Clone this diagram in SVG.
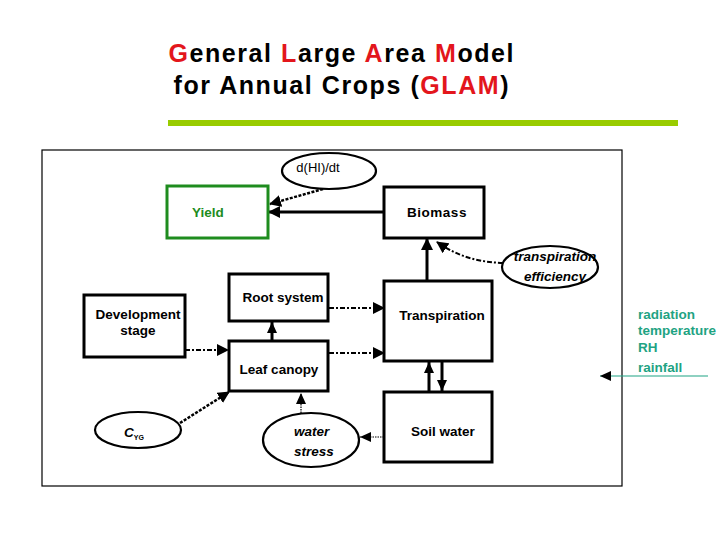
<svg xmlns="http://www.w3.org/2000/svg" width="720" height="540" viewBox="0 0 720 540">
<style>
  .t { font-family: "Liberation Sans", Arial, sans-serif; }
  .title { font-size: 25px; font-weight: bold; fill: #000; }
  .red { fill: #e3161c; }
  .box { fill: #fff; stroke: #000; stroke-width: 3; }
  .ell { fill: #fff; stroke: #000; stroke-width: 2.2; }
  .lbl { font-family: "Liberation Sans", Arial, sans-serif; font-size: 13.5px; font-weight: bold; fill: #000; text-anchor: middle; }
  .ital { font-style: italic; }
  .teal { font-family: "Liberation Sans", Arial, sans-serif; font-size: 13.5px; font-weight: bold; fill: #1fa383; }
  .solid { fill: none; stroke: #000; stroke-width: 3; }
  .dashdot { fill: none; stroke: #000; stroke-width: 2; stroke-dasharray: 5 2 2 2; }
  .dots { fill: none; stroke: #000; stroke-width: 1.2; stroke-dasharray: 1.5 1; }
  .thickdot { fill: none; stroke: #000; stroke-width: 2.5; stroke-dasharray: 3 1.5; }
</style>
<defs>
  <marker id="ah" markerUnits="userSpaceOnUse" markerWidth="12" markerHeight="12" refX="11" refY="6" orient="auto">
    <path d="M0,0 L12,6 L0,12 z" fill="#000"/>
  </marker>
  <marker id="ahs" markerUnits="userSpaceOnUse" markerWidth="11" markerHeight="10" refX="11" refY="5" orient="auto">
    <path d="M0,0 L11,5 L0,10 z" fill="#000"/>
  </marker>
</defs>
<rect width="720" height="540" fill="#fff"/>

<g id="title">
  <text class="t title" x="341" y="62" text-anchor="middle" textLength="345" lengthAdjust="spacing"><tspan class="red">G</tspan>eneral <tspan class="red">L</tspan>arge <tspan class="red">A</tspan>rea <tspan class="red">M</tspan>odel</text>
  <text class="t title" x="341" y="94" text-anchor="middle" textLength="335" lengthAdjust="spacing">for Annual Crops (<tspan class="red">GLAM</tspan>)</text>
  <rect x="168" y="120" width="510" height="6" fill="#99cc00"/>
</g>

<rect id="frame" x="42" y="150" width="580" height="336" fill="none" stroke="#000" stroke-width="1.2"/>

<g id="connectors">
  <line class="solid" x1="384" y1="212" x2="269" y2="212" marker-end="url(#ah)"/>
  <line class="thickdot" x1="323" y1="189" x2="270" y2="204" marker-end="url(#ah)"/>
  <path class="dashdot" d="M503,263 C480,262 460,258 437,242" marker-end="url(#ah)"/>
  <line class="solid" x1="427" y1="281" x2="427" y2="239" marker-end="url(#ah)"/>
  <line class="dashdot" x1="329" y1="308" x2="384" y2="308" marker-end="url(#ah)"/>
  <line class="dashdot" x1="329" y1="353" x2="384" y2="353" marker-end="url(#ah)"/>
  <line class="dashdot" x1="185" y1="350" x2="228" y2="350" marker-end="url(#ah)"/>
  <line class="solid" x1="272" y1="341" x2="272" y2="322" marker-end="url(#ahs)"/>
  <line class="thickdot" x1="180" y1="423" x2="229" y2="392" marker-end="url(#ah)"/>
  <line class="dots" x1="301" y1="413" x2="301" y2="393" marker-end="url(#ahs)"/>
  <line class="dots" x1="384" y1="437" x2="360" y2="437" marker-end="url(#ahs)"/>
  <line class="solid" x1="429" y1="392" x2="429" y2="362" marker-end="url(#ahs)"/>
  <line class="solid" x1="442" y1="361" x2="442" y2="391" marker-end="url(#ahs)"/>
  <line x1="708" y1="376" x2="600" y2="376" stroke="#1fa383" stroke-width="1.2" marker-end="url(#ahs)"/>
</g>

<g id="dHIdt">
  <ellipse class="ell" cx="329" cy="171" rx="47" ry="18"/>
  <text class="t" x="318" y="172" font-size="13" text-anchor="middle">d(HI)/dt</text>
</g>
<g id="yield">
  <rect x="167" y="186" width="101" height="52" fill="#fff" stroke="#1e8c1e" stroke-width="3"/>
  <text class="lbl" x="208" y="217" style="fill:#1e8c1e">Yield</text>
</g>
<g id="biomass">
  <rect class="box" x="384" y="187" width="100" height="51"/>
  <text class="lbl" x="437" y="217" letter-spacing="0.5">Biomass</text>
</g>
<g id="transpiration-efficiency">
  <ellipse class="ell" cx="550" cy="267" rx="48" ry="21"/>
  <text class="lbl ital" x="555" y="261">transpiration</text>
  <text class="lbl ital" x="555" y="281">efficiency</text>
</g>
<g id="root-system">
  <rect class="box" x="229" y="274" width="99" height="47"/>
  <text class="lbl" x="283" y="302">Root system</text>
</g>
<g id="transpiration">
  <rect class="box" x="384" y="281" width="108" height="80"/>
  <text class="lbl" x="442" y="320">Transpiration</text>
</g>
<g id="development-stage">
  <rect class="box" x="84" y="295" width="101" height="62"/>
  <text class="lbl" x="138" y="319">Development</text>
  <text class="lbl" x="138" y="335">stage</text>
</g>
<g id="leaf-canopy">
  <rect class="box" x="229" y="341" width="99" height="50"/>
  <text class="lbl" x="279" y="374">Leaf canopy</text>
</g>
<g id="soil-water">
  <rect class="box" x="384" y="392" width="108" height="70"/>
  <text class="lbl" x="443" y="436">Soil water</text>
</g>
<g id="cyg">
  <ellipse class="ell" cx="138" cy="430" rx="43" ry="18"/>
  <text class="lbl ital" x="124" y="437" style="text-anchor:start">C<tspan font-size="7" dy="3" font-style="normal">YG</tspan></text>
</g>
<g id="water-stress">
  <ellipse class="ell" cx="311" cy="440" rx="48" ry="27"/>
  <text class="lbl ital" x="294" y="436" style="text-anchor:start">water</text>
  <text class="lbl ital" x="294" y="456" style="text-anchor:start">stress</text>
</g>
<g id="weather">
  <text class="teal" x="638" y="319">radiation</text>
  <text class="teal" x="638" y="335">temperature</text>
  <text class="teal" x="638" y="352">RH</text>
  <text class="teal" x="638" y="372">rainfall</text>
</g>
</svg>
